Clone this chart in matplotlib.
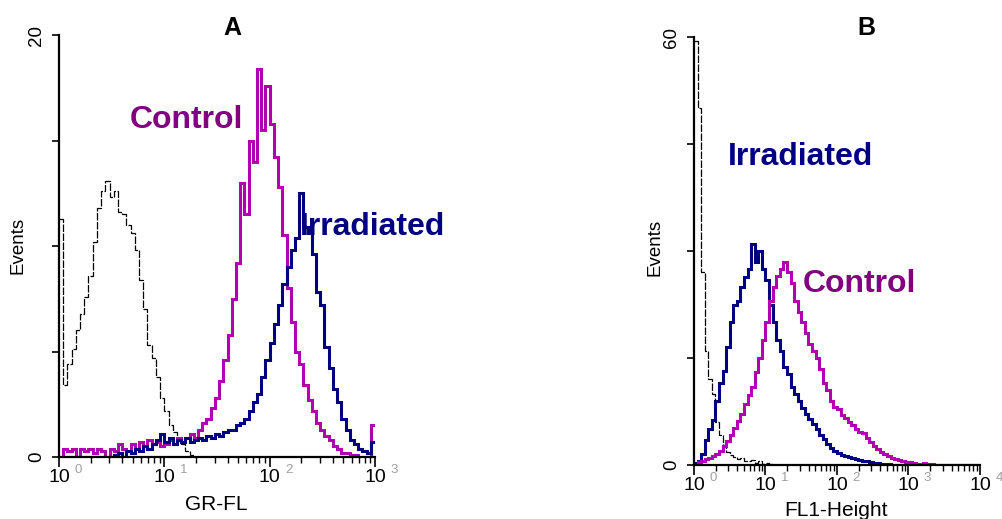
import numpy as np
import matplotlib
matplotlib.use("Agg")
import matplotlib.pyplot as plt
import matplotlib.transforms as mtransforms

plt.rcParams['font.family'] = ['Liberation Sans', 'DejaVu Sans']

# ---------------- Panel A data (log10 bins, 0.04 decade wide, 10^0..10^3) ----------------
a_decades = 3
a_isotype = [11.3, 3.4, 4.4, 5.1, 6.0, 6.8, 7.6, 8.6, 10.2, 11.8, 12.6, 13.1, 12.3, 12.6, 11.6,
             11.5, 11.0, 10.6, 9.8, 8.4, 7.0, 5.3, 4.7, 3.8, 2.8, 2.2, 1.5, 1.2, 0.8, 0.6,
             0.3, 0.1, 0, 0, 0, 0, 0, 0, 0, 0, 0, 0, 0, 0, 0, 0, 0, 0, 0, 0, 0, 0, 0, 0, 0,
             0, 0, 0, 0, 0, 0, 0, 0, 0, 0, 0, 0, 0, 0, 0, 0, 0, 0, 0, 0]
a_control = [0.0, 0.4, 0.3, 0.4, 0.0, 0.4, 0.3, 0.4, 0.2, 0.4, 0.3, 0.0, 0.4, 0.3, 0.6,
             0.4, 0.3, 0.6, 0.4, 0.7, 0.5, 0.8, 0.6, 0.7, 0.5, 0.6, 0.8, 0.6, 0.9, 0.7,
             0.9, 1.1, 0.9, 1.3, 1.6, 1.8, 2.3, 2.8, 3.6, 4.6, 5.8, 7.5, 9.2, 13.0, 11.5,
             15.0, 14.0, 18.4, 15.5, 17.6, 15.8, 14.2, 12.8, 10.5, 8.0, 6.4, 5.0, 4.4, 3.4, 2.7,
             2.2, 1.6, 1.3, 1.0, 0.8, 0.5, 0.4, 0.2, 0.2, 0.1, 0.1, 0.0, 0.0, 0.0, 1.5]
a_irradiated = [0, 0, 0, 0, 0, 0, 0, 0, 0, 0, 0, 0, 0, 0.1, 0.2,
                0.0, 0.3, 0.2, 0.4, 0.3, 0.5, 0.4, 0.6, 0.8, 1.1, 0.7, 0.9, 0.6, 0.8, 0.7,
                0.9, 0.7, 0.8, 0.9, 0.8, 1.0, 0.9, 1.1, 1.0, 1.2, 1.3, 1.3, 1.5, 1.6, 1.8,
                2.2, 2.6, 3.0, 3.8, 4.6, 5.4, 6.3, 7.2, 8.2, 9.0, 9.8, 10.4, 12.5, 10.9, 10.6,
                9.6, 7.8, 7.2, 5.2, 4.2, 3.2, 2.6, 1.8, 1.3, 0.8, 0.6, 0.4, 0.3, 0.2, 0.7]

# ---------------- Panel B data (log10 bins, 0.05 decade wide, 10^0..10^4) ----------------
b_decades = 4
b_isotype = [59.5, 50.0, 27.0, 16.0, 12.0, 10.0, 6.0, 4.2, 2.8, 1.8, 1.4, 1.1, 0.8, 1.0, 0.6,
             0.5, 0.7, 0.3, 0.5, 0.2, 0.3, 0.1] + [0] * 58
b_irradiated = [0.3, 0.6, 1.5, 3.5, 5.0, 6.3, 9.0, 11.5, 13.2, 16.5, 20.0, 22.5, 23.0, 25.0, 26.4,
                27.5, 31.0, 28.5, 30.0, 27.5, 26.0, 22.5, 20.0, 17.5, 16.0, 13.8, 12.8, 11.0, 10.0, 9.0,
                8.0, 7.2, 6.5, 5.8, 5.0, 4.2, 3.6, 3.0, 2.4, 2.0, 1.7, 1.4, 1.2, 1.1, 1.0,
                0.8, 0.7, 0.6, 0.5, 0.4, 0.3, 0.3, 0.2, 0.1, 0.1] + [0] * 25
b_control = [0.0, 0.4, 0.6, 0.8, 1.0, 1.3, 1.6, 2.0, 2.6, 3.3, 4.2, 5.2, 6.2, 7.2, 8.5,
             9.8, 11.0, 13.0, 15.0, 17.5, 20.0, 23.0, 25.0, 26.5, 27.5, 28.5, 27.0, 25.5, 23.0, 21.5,
             20.0, 18.5, 17.0, 16.0, 15.0, 13.5, 11.5, 10.5, 9.0, 8.2, 7.8, 7.0, 6.6, 6.0, 5.6,
             5.0, 4.6, 4.5, 3.8, 3.2, 2.6, 2.2, 1.8, 1.6, 1.2, 1.0, 0.8, 0.7, 0.5, 0.4,
             0.4, 0.3, 0.2, 0.2, 0.3, 0.2, 0.1] + [0] * 13

a_yticks = [0, 5, 10, 15, 20]
a_yticklabels = ['0', '', '', '', '20']
b_yticks = [0, 15, 30, 45, 60]
b_yticklabels = ['0', '', '', '', '60']

C_MAG = '#b000b0'
C_NAVY = '#000080'
C_LBL_MAG = '#800080'

W, H = 1003, 519
fig = plt.figure(figsize=(W / 100, H / 100), dpi=100)


def px_axes(x0, y0, x1, y1):
    return fig.add_axes([x0 / W, 1 - y1 / H, (x1 - x0) / W, (y1 - y0) / H])


def style_axes(ax, ndec, ymax, yticks, yticklabels):
    ax.set_xscale('log')
    ax.set_xlim(1, 10 ** ndec)
    ax.set_ylim(0, ymax)
    for s in ['top', 'right']:
        ax.spines[s].set_visible(False)
    for s in ['left', 'bottom']:
        ax.spines[s].set_linewidth(1.6)
    ax.set_yticks(yticks)
    ax.set_yticklabels(yticklabels, rotation=90, va='center', fontsize=13.5)
    ax.tick_params(axis='y', length=5, width=1.2, pad=5)
    dec = [10 ** k for k in range(ndec + 1)]
    ax.set_xticks(dec)
    ax.set_xticklabels([''] * len(dec))
    ax.xaxis.set_minor_locator(matplotlib.ticker.LogLocator(base=10, subs=np.arange(2, 10)))
    ax.xaxis.set_minor_formatter(matplotlib.ticker.NullFormatter())
    ax.tick_params(axis='x', which='major', length=7, width=1.2)
    ax.tick_params(axis='x', which='minor', length=4, width=1.0)
    tr = mtransforms.blended_transform_factory(ax.transData, ax.transAxes)
    for k, t in enumerate(dec):
        ax.annotate('10', xy=(t, 0), xycoords=tr, xytext=(0, -9), textcoords='offset points',
                    ha='center', va='top', fontsize=14, annotation_clip=False)
        ax.annotate(str(k), xy=(t, 0), xycoords=tr, xytext=(11, -5), textcoords='offset points',
                    ha='left', va='top', fontsize=9.5, color='#a0a0a0', annotation_clip=False)


# ---------------- Panel A ----------------
axA = px_axes(59, 35, 375, 457)
edgesA = np.logspace(0, a_decades, len(a_control) + 1)
axA.stairs(a_isotype, edgesA, color='black', lw=0.9, ls=(0, (6, 1.2)), baseline=None)
axA.stairs(a_control, edgesA, color=C_MAG, lw=2.2, baseline=None)
axA.stairs(a_irradiated, edgesA, color=C_NAVY, lw=2.2, baseline=None)
style_axes(axA, a_decades, 20, a_yticks, a_yticklabels)

# ---------------- Panel B ----------------
axB = px_axes(694, 37, 980, 465)
edgesB = np.logspace(0, b_decades, len(b_control) + 1)
axB.stairs(b_isotype, edgesB, color='black', lw=0.9, ls=(0, (6, 1.2)), baseline=None)
axB.stairs(b_irradiated, edgesB, color=C_NAVY, lw=2.2, baseline=None)
axB.stairs(b_control, edgesB, color=C_MAG, lw=2.2, baseline=None)
style_axes(axB, b_decades, 60, b_yticks, b_yticklabels)


def ftext(x, y, s, **kw):
    fig.text(x / W, 1 - y / H, s, **kw)


ftext(232, 28, 'A', ha='center', va='center', fontsize=18, fontweight='bold')
ftext(866, 28, 'B', ha='center', va='center', fontsize=18, fontweight='bold')

ftext(130, 120, 'Control', ha='left', va='center', fontsize=23, fontweight='bold', color=C_LBL_MAG)
ftext(300, 227, 'Irradiated', ha='left', va='center', fontsize=23, fontweight='bold', color=C_NAVY)
ftext(728, 157, 'Irradiated', ha='left', va='center', fontsize=23, fontweight='bold', color=C_NAVY)
ftext(803, 284, 'Control', ha='left', va='center', fontsize=23, fontweight='bold', color=C_LBL_MAG)

ftext(18, 245, 'Events', ha='center', va='center', rotation=90, fontsize=13.5)
ftext(655, 247, 'Events', ha='center', va='center', rotation=90, fontsize=13.5)
ftext(216, 504, 'GR-FL', ha='center', va='center', fontsize=15)
ftext(836, 511, 'FL1-Height', ha='center', va='center', fontsize=15)

fig.savefig('out.png', dpi=100)
